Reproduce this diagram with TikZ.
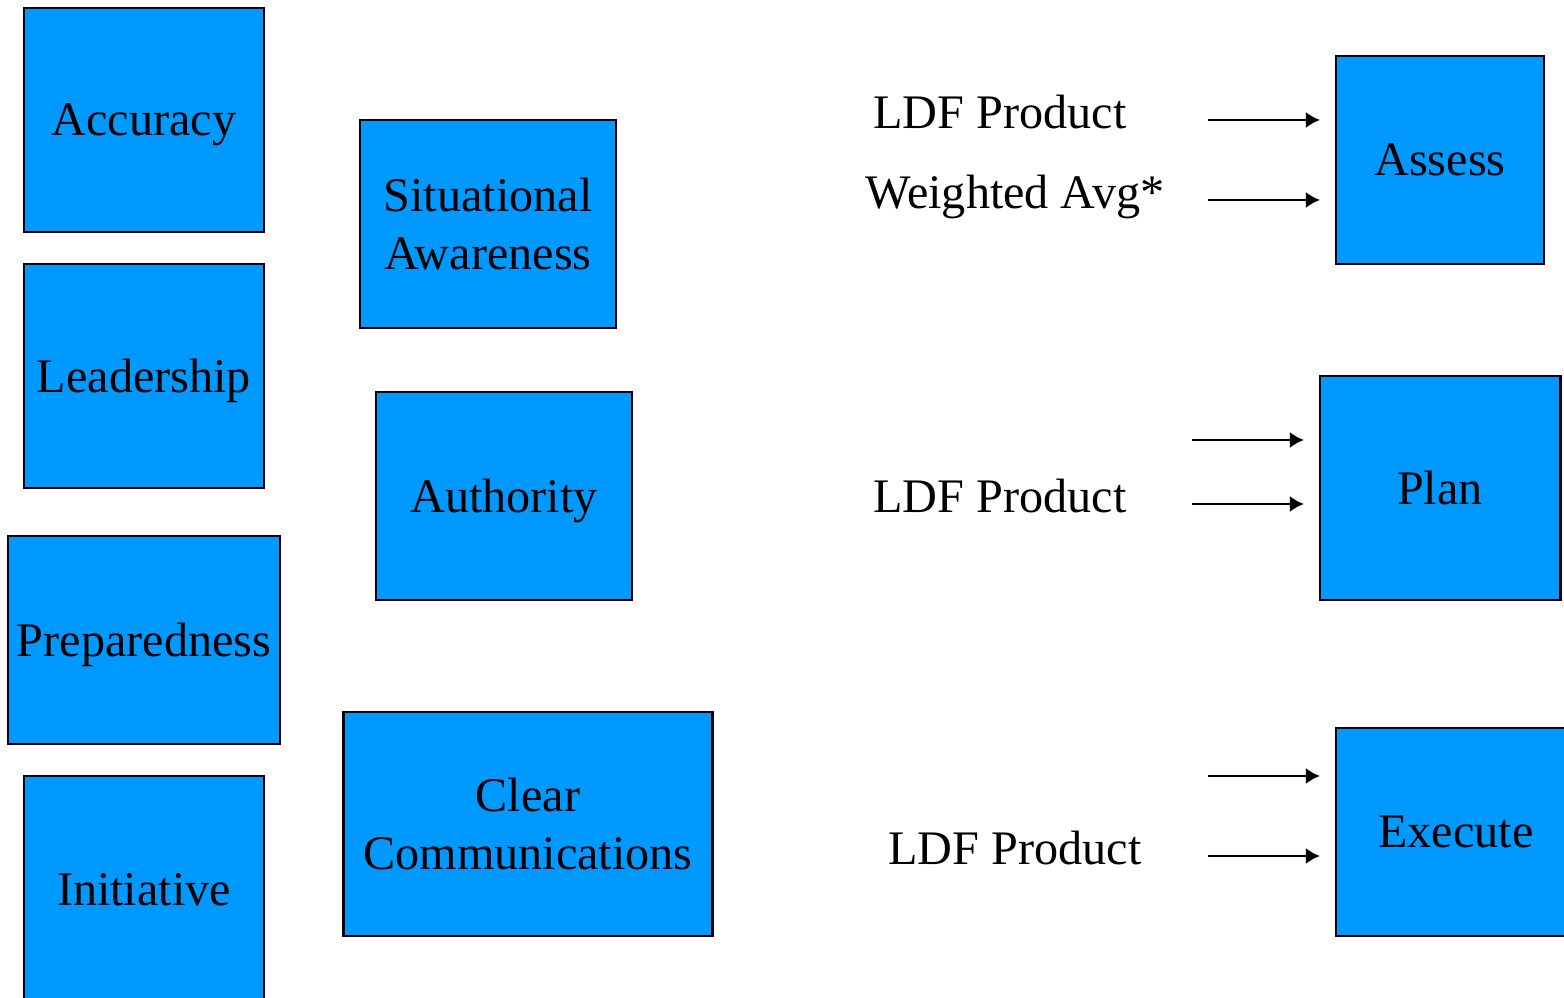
\documentclass[tikz,border=0pt]{standalone}
\usepackage{fontspec}
\setmainfont{Liberation Serif}
\usetikzlibrary{arrows.meta,positioning}
\definecolor{boxblue}{HTML}{0099FF}

\begin{document}
\begin{tikzpicture}[
x=0.01cm,
y=-0.01cm,
block/.style={
  draw,
  fill=boxblue,
  line width=0.8pt,
  align=center,
  inner sep=0pt,
  font=\fontsize{13.7}{16.3}\selectfont
  },
oneline/.style={
  text depth=0pt
  },
note/.style={
  inner sep=0pt,
  text depth=0pt,
  font=\fontsize{13.7}{16.3}\selectfont
  },
>={Latex[length=4pt,width=4.5pt]}
]
\useasboundingbox (0,0) rectangle (1564,998);
\clip (0,0) rectangle (1564,998);
% left column
\node[block, oneline, minimum width=2.4cm, minimum height=2.24cm] (accuracy) at (144,120) {Accuracy};
\node[block, oneline, minimum width=2.4cm, minimum height=2.24cm] (leadership) at (144,376) {Leadership};
\node[block, oneline, minimum width=2.72cm, minimum height=2.08cm] (prepared) at (144,640) {Preparedness};
\node[block, oneline, minimum width=2.4cm, minimum height=2.28cm] (initiative) at (144,890) {Initiative};
% middle column
\node[block, minimum width=2.56cm, minimum height=2.08cm] (situational) at (488,224) {Situational\\Awareness};
\node[block, oneline, minimum width=2.56cm, minimum height=2.08cm] (authority) at (504,496) {Authority};
\node[block, minimum width=3.68cm, minimum height=2.24cm] (clearcomm) at (528,824) {Clear\\Communications};
% right column
\node[block, oneline, minimum width=2.08cm, minimum height=2.08cm] (assess) at (1440,160) {Assess};
\node[block, oneline, minimum width=2.4cm, minimum height=2.24cm] (plan) at (1440,488) {Plan};
\node[block, oneline, minimum width=2.4cm, minimum height=2.08cm] (execute) at (1456,832) {Execute};
% labels
\node[note] (ldfa) at (1000,112) {LDF Product};
\node[note] (wavg) at (1015,192) {Weighted Avg*};
\node[note] (ldfp) at (1000,496) {LDF Product};
\node[note] (ldfe) at (1015,848) {LDF Product};
% arrows
\coordinate (a1s) at (1208,120); \coordinate (a1e) at (1320,120);
\coordinate (a2s) at (1208,200); \coordinate (a2e) at (1320,200);
\coordinate (p1s) at (1192,440); \coordinate (p1e) at (1304,440);
\coordinate (p2s) at (1192,504); \coordinate (p2e) at (1304,504);
\coordinate (e1s) at (1208,776); \coordinate (e1e) at (1320,776);
\coordinate (e2s) at (1208,856); \coordinate (e2e) at (1320,856);
\draw[->, line width=0.55pt] (a1s) -- (a1e);
\draw[->, line width=0.55pt] (a2s) -- (a2e);
\draw[->, line width=0.55pt] (p1s) -- (p1e);
\draw[->, line width=0.55pt] (p2s) -- (p2e);
\draw[->, line width=0.55pt] (e1s) -- (e1e);
\draw[->, line width=0.55pt] (e2s) -- (e2e);
\end{tikzpicture}
\end{document}
